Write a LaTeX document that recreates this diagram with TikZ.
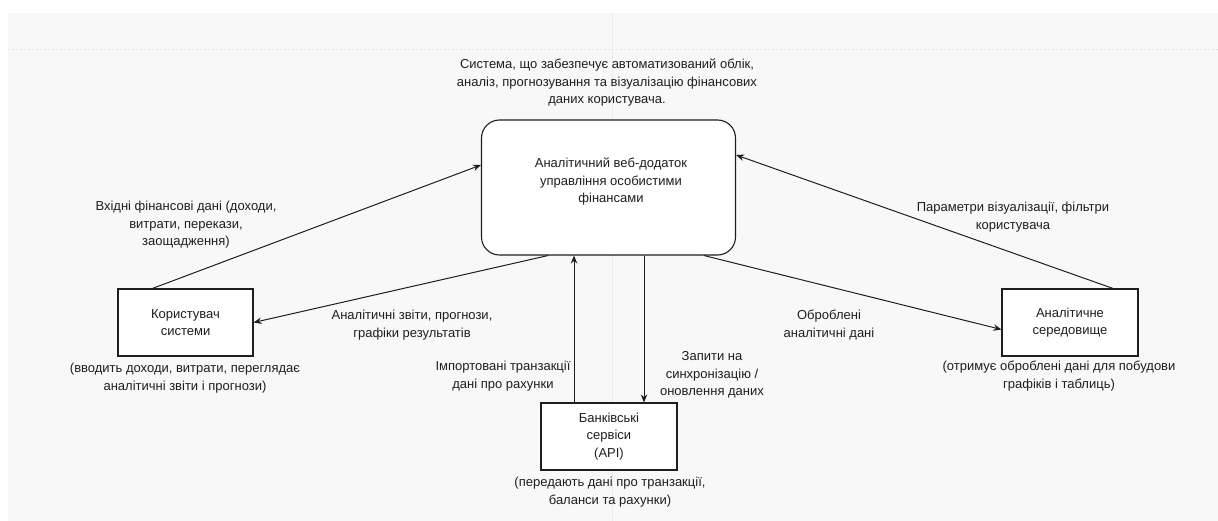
\documentclass[tikz,border=0pt]{standalone}
\usepackage{fontspec}
\setmainfont{Liberation Sans}
\usetikzlibrary{arrows.meta,calc}
\definecolor{ink}{HTML}{1E1E1E}
\definecolor{panel}{HTML}{F8F8F8}
\definecolor{guide}{HTML}{E4E4E4}
\definecolor{vguide}{HTML}{EBEBEB}
\tikzset{
  lbl/.style={align=center,text=ink,font=\fontsize{13}{17.5}\selectfont,inner sep=0pt},
  blockbox/.style={draw=ink,line width=1.1pt,fill=white,minimum width=135pt,minimum height=67pt,inner sep=0pt,align=center,text=ink,font=\fontsize{13}{17.5}\selectfont},
  flow/.style={draw=ink,line width=1pt,-{Stealth[length=8pt,width=6.5pt]}}
}
\begin{document}
\begin{tikzpicture}[x=1pt,y=-1pt]
  \useasboundingbox (0,0) rectangle (1218,521);
  % canvas panel and guide lines
  \fill[panel] (8,13) rectangle (1218,521);
  \draw[guide,line width=1pt,dash pattern=on 2pt off 2pt] (8,50) -- (1218,50);
  \draw[vguide,line width=1pt] (612,13) -- (612,521);

  % system description
  \node[lbl] (desc) at (607,83) {Система, що забезпечує автоматизований облік,\\аналіз, прогнозування та візуалізацію фінансових\\даних користувача.};

  % central system
  \node[blockbox,rounded corners=18pt,minimum width=254pt,minimum height=135pt] (app) at (608.5,187.5) {};
  \node[lbl] (apptext) at (611,182) {Аналітичний веб-додаток\\управління особистими\\фінансами};

  % external entities
  \node[blockbox] (user) at (185.5,322.5) {Користувач\\системи};
  \node[blockbox,minimum width=136pt] (bank) at (609,436.5) {Банківські\\сервіси\\(API)};
  \node[blockbox,minimum width=136pt] (env) at (1070,322.5) {Аналітичне\\середовище};

  % entity notes
  \node[lbl] (usernote) at (185,378) {(вводить доходи, витрати, переглядає\\аналітичні звіти і прогнози)};
  \node[lbl] (banknote) at (610,492) {(передають дані про транзакції,\\баланси та рахунки)};
  \node[lbl] (envnote) at (1059,376) {(отримує оброблені дані для побудови\\графіків і таблиць)};

  % data flows
  \draw[flow] ($(user.north west)+(35,0)$) -- ($(app.west)+(0,-22.5)$);
  \draw[flow] ($(app.south)+(-60.5,0)$) -- (user.east);
  \draw[flow] ($(bank.north)+(-35,0)$) -- ($(app.south)+(-34.5,0)$);
  \draw[flow] ($(app.south)+(35.5,0)$) -- ($(bank.north)+(35,0)$);
  \draw[flow] ($(app.south)+(95.5,0)$) -- ($(env.west)+(0,7)$);
  \draw[flow] ($(env.north)+(43,0)$) -- ($(app.east)+(0,-32.5)$);

  % flow labels
  \node[lbl] (inlbl) at (186,225) {Вхідні фінансові дані (доходи,\\витрати, перекази,\\заощадження)};
  \node[lbl] (replbl) at (412,325) {Аналітичні звіти, прогнози,\\графіки результатів};
  \node[lbl] (implbl) at (503,376) {Імпортовані транзакції\\дані про рахунки};
  \node[lbl] (synclbl) at (712,375) {Запити на\\синхронізацію /\\оновлення даних};
  \node[lbl] (proclbl) at (829,325) {Оброблені\\аналітичні дані};
  \node[lbl] (parlbl) at (1013,217) {Параметри візуалізації, фільтри\\користувача};
\end{tikzpicture}
\end{document}
